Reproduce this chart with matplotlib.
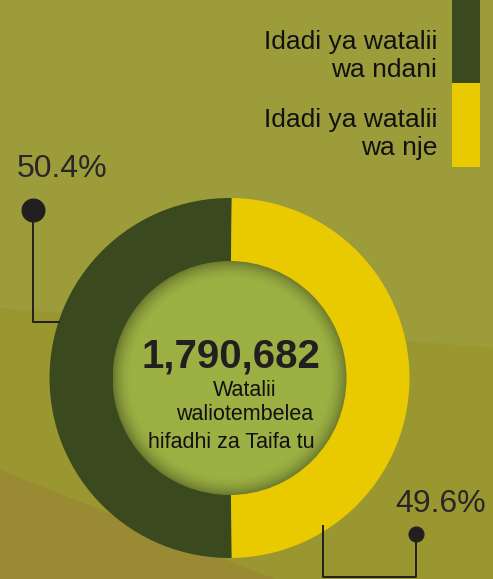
import numpy as np
import matplotlib
matplotlib.use("Agg")
import matplotlib.pyplot as plt
from matplotlib.patches import Polygon, Circle, Rectangle
from matplotlib.colors import to_rgb

plt.rcParams['font.family'] = ['Liberation Sans', 'DejaVu Sans']

# Data
categories = ["Idadi ya watalii\nwa ndani", "Idadi ya watalii\nwa nje"]
shares = [50.4, 49.6]
share_labels = ["50.4%", "49.6%"]
total_visitors = "1,790,682"
center_caption = ["Watalii", "waliotembelea", "hifadhi za Taifa tu"]
colors = ["#3b4a1e", "#e9c900"]

W, H = 493, 579
fig = plt.figure(figsize=(W / 100, H / 100), dpi=100)
ax = fig.add_axes([0, 0, 1, 1])


def Y(py):
    """Convert a top-down pixel row to the y-up data coordinate."""
    return H - py


# Background panels
ax.add_patch(Rectangle((0, 0), W, H, color="#9c9c3b", zorder=0))
ax.add_patch(Polygon([(0, Y(308)), (W, Y(348)), (W, 0), (0, 0)],
                     closed=True, color="#9a9731", lw=0, zorder=0.1))
ax.add_patch(Polygon([(0, Y(470)), (275, 0), (0, 0)],
                     closed=True, color="#998a33", lw=0, zorder=0.2))

# Donut
cx, cy, R, R_in = 229.5, Y(378), 180, 117
extra = (shares[0] - 50) / 100 * 360 / 2
ax.pie(shares, colors=colors, startangle=90 - extra, counterclock=True,
       radius=R, center=(cx, cy),
       wedgeprops=dict(width=R - R_in + 1, linewidth=0))

# Inner disc with darkened rim
n = 400
xs = np.linspace(-1, 1, n)
xx, yy = np.meshgrid(xs, xs)
t = np.sqrt(xx ** 2 + yy ** 2)
shade = np.where(t < 0.84, 1.0, 1.0 - 0.30 * ((t - 0.84) / 0.16) ** 1.8)
shade = np.clip(shade, 0.68, 1.0)
base = np.array(to_rgb("#9cb043"))
img = base[None, None, :] * shade[..., None]
im = ax.imshow(img, extent=[cx - R_in, cx + R_in, cy - R_in, cy + R_in],
               origin="lower", zorder=3, interpolation="bilinear")
clip = Circle((cx, cy), R_in, transform=ax.transData)
im.set_clip_path(clip)

# Centre text
txt = "#231f20"
ax.text(230.5, Y(356), total_visitors, ha="center", va="center",
        fontsize=29, fontweight="bold", color=txt, zorder=5)
for (x, py), line in zip([(245, 391), (244.5, 414), (231, 442)], center_caption):
    ax.text(x, Y(py), line, ha="center", va="center", fontsize=15.5,
            color="#111111", zorder=5)

# Legend blocks
ax.add_patch(Rectangle((452, Y(83)), 28, 83, color=colors[0], lw=0, zorder=2))
ax.add_patch(Rectangle((452, Y(167)), 28, 84, color=colors[1], lw=0, zorder=2))
ax.text(437, Y(56), categories[0], ha="right", va="center", fontsize=19,
        color="#111111", linespacing=1.25, zorder=5)
ax.text(437, Y(134), categories[1], ha="right", va="center", fontsize=19,
        color="#111111", linespacing=1.25, zorder=5)

# Share callouts
line_kw = dict(color="#231f20", lw=1.4, zorder=1.5, solid_capstyle="butt")
ax.plot([33, 33, 60], [Y(210), Y(322), Y(322)], **line_kw)
ax.plot([33], [Y(210)], "o", ms=16.3, color="#231f20", zorder=2)
ax.text(62.5, Y(169), share_labels[0], ha="center", va="center",
        fontsize=23, color="#2a2628", zorder=5)

ax.plot([416, 416, 323, 323], [Y(534), Y(577), Y(577), Y(525)], **line_kw)
ax.plot([416], [Y(534)], "o", ms=10.6, color="#231f20", zorder=2)
ax.text(441, Y(504), share_labels[1], ha="center", va="center",
        fontsize=23, color="#2a2628", zorder=5)

ax.set_xlim(0, W)
ax.set_ylim(0, H)
ax.set_aspect("equal")
ax.axis("off")

fig.savefig("out.png", dpi=100)
